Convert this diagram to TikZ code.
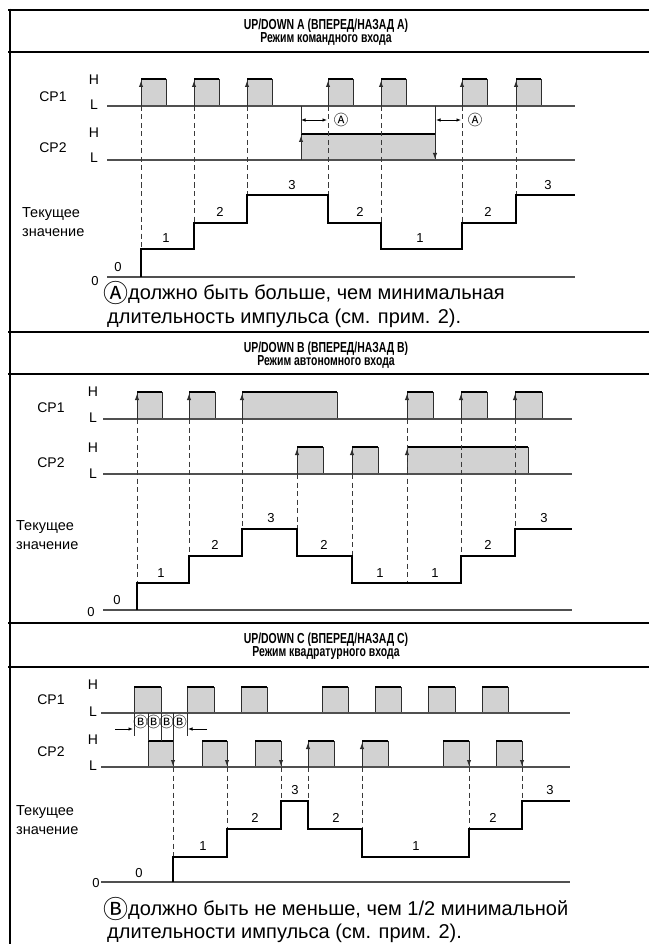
\documentclass[tikz,border=0pt]{standalone}
\usepackage{fontspec}
\setmainfont{Liberation Sans}
\newfontfamily\headfont[FakeStretch=0.72]{Liberation Sans}
\newfontfamily\symfont{Noto Sans CJK SC}
\newcommand{\notecirc}[1]{\raisebox{-3pt}{\symfont\fontsize{25}{24}\selectfont #1}}
\usetikzlibrary{arrows.meta}
\usepackage{xcolor}
\definecolor{pulsegray}{HTML}{D2D2D2}
\definecolor{siggray}{HTML}{505050}
\definecolor{edgegray}{HTML}{2E2E2E}
\definecolor{guidegray}{HTML}{3A3A3A}

\tikzset{
  sig/.style={draw=siggray, line width=1.3pt},
  pedge/.style={draw=edgegray, line width=0.9pt},
  hitop/.style={draw=black, line width=2.6pt},
  cnt/.style={draw=black, line width=2.9pt, line join=miter},
  guide/.style={draw=guidegray, line width=0.8pt, dash pattern=on 5pt off 3.5pt},
  tiparr/.style={pedge, -{Latex[length=6pt,width=4.5pt]}},
  dimarr/.style={draw=black, line width=0.8pt, {Latex[length=4.5pt,width=3.5pt]}-{Latex[length=4.5pt,width=3.5pt]}},
  onearr/.style={draw=black, line width=0.8pt, -{Latex[length=4.5pt,width=3.5pt]}},
  boxline/.style={draw=black, line width=2.6pt},
  lbl/.style={font=\fontsize{14}{16}\selectfont, inner sep=0pt},
  pvtxt/.style={font=\fontsize{14.5}{16}\selectfont, inner sep=0pt, anchor=base west},
  num/.style={font=\fontsize{13}{14}\selectfont, inner sep=0pt},
  headtxt/.style={font=\headfont\bfseries\fontsize{14.5}{15}\selectfont, inner sep=0pt, anchor=base},
  notetxt/.style={font=\fontsize{20}{24}\selectfont, inner sep=0pt, anchor=base west},
  circtxt/.style={font=\symfont\fontsize{14.5}{14}\selectfont, inner sep=0pt},
}

% one pulse: left x, right x, low y, high y
\newcommand{\pulse}[4]{%
  \fill[pulsegray] (#1,#3) rectangle (#2,#4);
  \draw[pedge] (#1,#3) -- (#1,#4) (#2,#4) -- (#2,#3);
  \draw[hitop] (#1,#4) -- (#2,#4);}

\begin{document}
\begin{tikzpicture}[x=1pt, y=-1pt]
  \useasboundingbox (0,0) rectangle (649,944);

  % Frame
  \draw[boxline] (8,10) -- (649,10);
  \draw[boxline] (8,52) -- (649,52);
  \draw[boxline] (8,332) -- (649,332);
  \draw[boxline] (8,374) -- (649,374);
  \draw[boxline] (8,623) -- (649,623);
  \draw[boxline] (8,667) -- (649,667);
  \draw[boxline] (10,8.7) -- (10,944);

  %%%%%%%% Section A
  \node[headtxt] (headA1) at (326,30) {UP/DOWN A (ВПЕРЕД/НАЗАД А)};
  \node[headtxt] (headA2) at (326,43) {Режим командного входа};

  % CP1
  \node[lbl] (cp1A) at (53,97) {CP1};
  \node[lbl] (hiA1) at (94,80) {H};
  \node[lbl] (loA1) at (94,105) {L};
  \pulse{141}{166}{106}{79}
  \pulse{194}{219}{106}{79}
  \pulse{247}{272}{106}{79}
  \pulse{328}{353}{106}{79}
  \pulse{381}{406}{106}{79}
  \pulse{462}{487}{106}{79}
  \pulse{516}{541}{106}{79}
  \draw[sig] (107,106) -- (575,106);
  \foreach \x in {141,194,247,328,381,462,516}
    \draw[tiparr] (\x,106) -- (\x,81);

  % CP2
  \node[lbl] (cp2A) at (53,148) {CP2};
  \node[lbl] (hiA2) at (94,133) {H};
  \node[lbl] (loA2) at (94,158) {L};
  \pulse{301}{435}{160}{134}
  \draw[sig] (107,160) -- (575,160);
  \draw[pedge] (301,106) -- (301,134);
  \draw[pedge] (435,106) -- (435,134);
  \draw[tiparr] (301,160) -- (301,136);
  \draw[tiparr] (435,134) -- (435,159);

  % pulse width marks
  \draw[dimarr] (301,120) -- (327,120);
  \node[circtxt] (markA1) at (341,120) {Ⓐ};
  \draw[dimarr] (436,120) -- (461,120);
  \node[circtxt] (markA2) at (475,120) {Ⓐ};

  % guides
  \draw[guide] (141,106) -- (141,249);
  \draw[guide] (194,106) -- (194,223);
  \draw[guide] (247,106) -- (247,195);
  \draw[guide] (328,106) -- (328,195);
  \draw[guide] (381,106) -- (381,223);
  \draw[guide] (462,106) -- (462,223);
  \draw[guide] (516,106) -- (516,195);

  % present value
  \node[pvtxt] (pvA1) at (22,217) {Текущее};
  \node[pvtxt] (pvA2) at (22,236) {значение};
  \node[num] (zeroA) at (95,281) {0};
  \draw[sig] (107,277) -- (575,277);
  \draw[cnt] (141,277) -- (141,249) -- (194,249) -- (194,223) -- (247,223)
    -- (247,195) -- (328,195) -- (328,223) -- (381,223) -- (381,249)
    -- (462,249) -- (462,223) -- (516,223) -- (516,195) -- (575,195);
  \node[num] (vA0) at (118,267) {0};
  \node[num] (vA1) at (166,238) {1};
  \node[num] (vA2) at (220,212) {2};
  \node[num] (vA3) at (292,185) {3};
  \node[num] (vA4) at (360,212) {2};
  \node[num] (vA5) at (420,238) {1};
  \node[num] (vA6) at (488,212) {2};
  \node[num] (vA7) at (548,185) {3};

  \node[notetxt] (noteA1) at (103,299) {\notecirc{Ⓐ}должно быть больше, чем минимальная};
  \node[notetxt] (noteA2) at (107,323) {длительность импульса (см. прим. 2).};

  %%%%%%%% Section B
  \node[headtxt] (headB1) at (326,352) {UP/DOWN B (ВПЕРЕД/НАЗАД B)};
  \node[headtxt] (headB2) at (326,365) {Режим автономного входа};

  % CP1
  \node[lbl] (cp1B) at (51,408) {CP1};
  \node[lbl] (hiB1) at (93,392) {H};
  \node[lbl] (loB1) at (93,418) {L};
  \pulse{137}{162}{419}{392}
  \pulse{189}{215}{419}{392}
  \pulse{242}{337}{419}{392}
  \pulse{407}{433}{419}{392}
  \pulse{461}{487}{419}{392}
  \pulse{515}{542}{419}{392}
  \draw[sig] (103,419) -- (572,419);
  \foreach \x in {137,189,242,407,461,515}
    \draw[tiparr] (\x,419) -- (\x,394);

  % CP2
  \node[lbl] (cp2B) at (51,463) {CP2};
  \node[lbl] (hiB2) at (93,448) {H};
  \node[lbl] (loB2) at (93,474) {L};
  \pulse{297}{323}{474}{447}
  \pulse{352}{378}{474}{447}
  \pulse{407}{528}{474}{447}
  \draw[sig] (103,474) -- (572,474);
  \foreach \x in {297,352,407}
    \draw[tiparr] (\x,474) -- (\x,449);

  % guides
  \draw[guide] (137,419) -- (137,583);
  \draw[guide] (189,419) -- (189,556);
  \draw[guide] (242,419) -- (242,529);
  \draw[guide] (297,474) -- (297,529);
  \draw[guide] (352,474) -- (352,556);
  \draw[guide] (407,419) -- (407,583);
  \draw[guide] (461,419) -- (461,556);
  \draw[guide] (515,419) -- (515,529);

  % present value
  \node[pvtxt] (pvB1) at (16,530) {Текущее};
  \node[pvtxt] (pvB2) at (16,549) {значение};
  \node[num] (zeroB) at (91,612) {0};
  \draw[sig] (103,610) -- (572,610);
  \draw[cnt] (137,610) -- (137,583) -- (189,583) -- (189,556) -- (242,556)
    -- (242,529) -- (297,529) -- (297,556) -- (352,556) -- (352,583)
    -- (461,583) -- (461,556) -- (515,556) -- (515,529) -- (572,529);
  \node[num] (vB0) at (117,600) {0};
  \node[num] (vB1) at (161,573) {1};
  \node[num] (vB2) at (215,545) {2};
  \node[num] (vB3) at (271,518) {3};
  \node[num] (vB4) at (324,545) {2};
  \node[num] (vB5) at (380,573) {1};
  \node[num] (vB6) at (435,573) {1};
  \node[num] (vB7) at (488,545) {2};
  \node[num] (vB8) at (544,518) {3};

  %%%%%%%% Section C
  \node[headtxt] (headC1) at (326,643) {UP/DOWN C (ВПЕРЕД/НАЗАД C)};
  \node[headtxt] (headC2) at (326,656) {Режим квадратурного входа};

  % CP1
  \node[lbl] (cp1C) at (51,700) {CP1};
  \node[lbl] (hiC1) at (93,685) {H};
  \node[lbl] (loC1) at (93,712) {L};
  \pulse{134}{161}{713}{687}
  \pulse{187}{214}{713}{687}
  \pulse{241}{267}{713}{687}
  \pulse{322}{348}{713}{687}
  \pulse{375}{401}{713}{687}
  \pulse{428}{455}{713}{687}
  \pulse{482}{508}{713}{687}
  \draw[sig] (101,713) -- (570,713);

  % CP2
  \node[lbl] (cp2C) at (51,752) {CP2};
  \node[lbl] (hiC2) at (93,740) {H};
  \node[lbl] (loC2) at (93,766) {L};
  \pulse{148}{173}{767}{741}
  \pulse{202}{227}{767}{741}
  \pulse{255}{281}{767}{741}
  \pulse{308}{334}{767}{741}
  \pulse{362}{388}{767}{741}
  \pulse{443}{469}{767}{741}
  \pulse{496}{522}{767}{741}
  \draw[sig] (101,767) -- (570,767);
  \foreach \x in {173,227,281,469,522}
    \draw[tiparr] (\x,741) -- (\x,766);
  \foreach \x in {308,362}
    \draw[tiparr] (\x,767) -- (\x,743);

  % phase marks
  \draw[pedge] (134,713) -- (134,736);
  \draw[pedge] (148,713) -- (148,741);
  \draw[pedge] (161,713) -- (161,741);
  \draw[pedge] (173,713) -- (173,741);
  \draw[pedge] (187,713) -- (187,736);
  \node[circtxt] (markB1) at (140.5,722) {Ⓑ};
  \node[circtxt] (markB2) at (153.5,722) {Ⓑ};
  \node[circtxt] (markB3) at (166.5,722) {Ⓑ};
  \node[circtxt] (markB4) at (179.5,722) {Ⓑ};
  \draw[onearr] (115,729) -- (133,729);
  \draw[onearr] (207,729) -- (188,729);

  % guides
  \draw[guide] (173,767) -- (173,857);
  \draw[guide] (227,767) -- (227,829);
  \draw[guide] (281,767) -- (281,801);
  \draw[guide] (308,767) -- (308,801);
  \draw[guide] (362,767) -- (362,829);
  \draw[guide] (469,767) -- (469,829);
  \draw[guide] (522,767) -- (522,801);

  % present value
  \node[pvtxt] (pvC1) at (16,815) {Текущее};
  \node[pvtxt] (pvC2) at (16,834) {значение};
  \node[num] (zeroC) at (96,883) {0};
  \draw[sig] (101,882) -- (570,882);
  \draw[cnt] (173,882) -- (173,857) -- (227,857) -- (227,829) -- (281,829)
    -- (281,801) -- (308,801) -- (308,829) -- (362,829) -- (362,857)
    -- (469,857) -- (469,829) -- (522,829) -- (522,801) -- (570,801);
  \node[num] (vC0) at (139,873) {0};
  \node[num] (vC1) at (203,846) {1};
  \node[num] (vC2) at (255,818) {2};
  \node[num] (vC3) at (295,790) {3};
  \node[num] (vC4) at (336,818) {2};
  \node[num] (vC5) at (416,846) {1};
  \node[num] (vC6) at (493,818) {2};
  \node[num] (vC7) at (550,790) {3};

  \node[notetxt] (noteC1) at (103,915) {\notecirc{Ⓑ}должно быть не меньше, чем 1/2 минимальной};
  \node[notetxt] (noteC2) at (107,938) {длительности импульса (см. прим. 2).};
\end{tikzpicture}
\end{document}
